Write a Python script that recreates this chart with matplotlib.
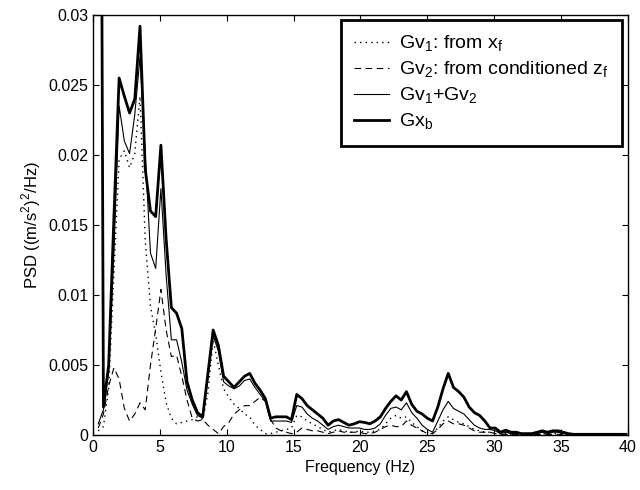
import numpy as np
import matplotlib
matplotlib.use('Agg')
import matplotlib.pyplot as plt

plt.rcParams['font.family'] = ['Liberation Sans', 'DejaVu Sans']
plt.rcParams['mathtext.fontset'] = 'custom'
plt.rcParams['mathtext.rm'] = 'Liberation Sans'

# frequency resolution of the spectra (Hz), bins 1..102
df = 400.0 / 1024.0
freq = df * np.arange(1, 103)

gxb = [0.1, 0.0020, 0.0050, 0.0155, 0.0255, 0.0242, 0.0230, 0.0240, 0.0292, 0.0190,
       0.0160, 0.0156, 0.0207, 0.0140, 0.0091, 0.0087, 0.0076, 0.0038, 0.0025, 0.0016,
       0.0013, 0.0044, 0.0075, 0.0064, 0.0042, 0.0038, 0.0034, 0.0038, 0.0042, 0.0044,
       0.0037, 0.0032, 0.0026, 0.0012, 0.0013, 0.0013, 0.0013, 0.0011, 0.0029, 0.0026,
       0.0021, 0.0018, 0.0015, 0.0012, 0.0007, 0.0010, 0.0011, 0.0009, 0.0007, 0.0008,
       0.00095, 0.0009, 0.0008, 0.0010, 0.0013, 0.0019, 0.0024, 0.0028, 0.0025, 0.0031,
       0.0022, 0.0017, 0.0015, 0.0012, 0.0010, 0.0020, 0.0033, 0.0044, 0.0034, 0.0031,
       0.0027, 0.0020, 0.0016, 0.0014, 0.0010, 0.0005, 0.0005, 0.0002, 0.00035, 0.0002,
       0.0002, 0.0001, 0.0001, 0.0001, 0.0002, 0.0003, 0.0002, 0.0003, 0.0003, 0.0002,
       0.0001, 0.00005, 0.00005, 0.00005, 0.00005, 0.00005, 0.00005, 0.00005, 0.00005, 0.00005,
       0.00005, 0.00005]

gv_sum = [0.0008, 0.0018, 0.0045, 0.0130, 0.0235, 0.0210, 0.0201, 0.0229, 0.0270, 0.0200,
          0.0130, 0.0119, 0.0176, 0.0114, 0.0068, 0.0068, 0.0052, 0.0032, 0.0022, 0.0014,
          0.0012, 0.0040, 0.0071, 0.0060, 0.0038, 0.0035, 0.0033, 0.0035, 0.0039, 0.0040,
          0.0034, 0.0029, 0.0024, 0.0010, 0.0010, 0.0010, 0.0010, 0.0009, 0.0021, 0.0020,
          0.0015, 0.0012, 0.0010, 0.0007, 0.0004, 0.0006, 0.0007, 0.0006, 0.0005, 0.0005,
          0.0005, 0.0004, 0.0004, 0.0005, 0.0008, 0.0014, 0.0019, 0.0020, 0.0018, 0.0023,
          0.0016, 0.0012, 0.0007, 0.0004, 0.0002, 0.0010, 0.0018, 0.0024, 0.0019, 0.0017,
          0.0015, 0.0011, 0.0007, 0.0005, 0.0004, 0.0004, 0.0003, 0.0001, 0.0002, 0.0001,
          0.0001, 0.0001, 0.0001, 0.0001, 0.0001, 0.0002, 0.0001, 0.0002, 0.0002, 0.0001,
          0.00005, 0.00004, 0.00004, 0.00004, 0.00004, 0.00004, 0.00004, 0.00004, 0.00004, 0.00004,
          0.00004, 0.00004]

gv1 = [0.0003, 0.0006, 0.0033, 0.0115, 0.0197, 0.0203, 0.0191, 0.0201, 0.0242, 0.0139,
       0.0092, 0.0072, 0.0045, 0.0023, 0.0012, 0.0008, 0.0009, 0.0010, 0.0011, 0.0013,
       0.0011, 0.0030, 0.0068, 0.0050, 0.0033, 0.0027, 0.0022, 0.0019, 0.0015, 0.0013,
       0.0007, 0.0004, 0.0001, 0.0001, 0.0002, 0.0003, 0.0004, 0.0005, 0.0014, 0.0013,
       0.0010, 0.0008, 0.0006, 0.0004, 0.0002, 0.0003, 0.0004, 0.0003, 0.0002, 0.0002,
       0.0003, 0.0002, 0.0002, 0.0003, 0.0004, 0.0008, 0.0012, 0.0014, 0.0012, 0.0013,
       0.0009, 0.0006, 0.0003, 0.0002, 0.0001, 0.0005, 0.0010, 0.0013, 0.0011, 0.0009,
       0.0008, 0.0006, 0.0004, 0.0003, 0.0002, 0.0002, 0.0001, 0.0001, 0.0001, 0.00005,
       0.00005, 0.00005, 0.00005, 0.00005, 0.00005, 0.0001, 0.00005, 0.0001, 0.0001, 0.00005,
       0.00003, 0.00003, 0.00003, 0.00003, 0.00003, 0.00003, 0.00003, 0.00003, 0.00003, 0.00003,
       0.00003, 0.00003]

gv2 = [0.0005, 0.0015, 0.0035, 0.0048, 0.0040, 0.0019, 0.0010, 0.0015, 0.0023, 0.0018,
       0.0050, 0.0076, 0.0104, 0.0075, 0.0056, 0.0057, 0.0042, 0.0025, 0.0012, 0.0010,
       0.0011, 0.0007, 0.0004, 0.0001, 0.0006, 0.0009, 0.0015, 0.0018, 0.0021, 0.0021,
       0.0024, 0.0027, 0.0024, 0.0011, 0.0005, 0.0003, 0.0002, 0.0001, 0.0002, 0.0005,
       0.0004, 0.0003, 0.0003, 0.0002, 0.0001, 0.0002, 0.0003, 0.0002, 0.0002, 0.0002,
       0.0002, 0.0001, 0.0001, 0.0002, 0.0004, 0.0006, 0.0007, 0.0006, 0.0006, 0.0010,
       0.0007, 0.0005, 0.0003, 0.0001, 0.0001, 0.0004, 0.0008, 0.0010, 0.0008, 0.0008,
       0.0007, 0.0005, 0.0003, 0.0002, 0.0002, 0.0002, 0.0001, 0.00005, 0.00005, 0.00005,
       0.00005, 0.00003, 0.00003, 0.00003, 0.00003, 0.00005, 0.00003, 0.00005, 0.00005, 0.00003,
       0.00002, 0.00002, 0.00002, 0.00002, 0.00002, 0.00002, 0.00002, 0.00002, 0.00002, 0.00002,
       0.00002, 0.00002]

labels = [r'Gv$_\mathregular{1}$: from x$_\mathregular{f}$',
          r'Gv$_\mathregular{2}$: from conditioned z$_\mathregular{f}$',
          r'Gv$_\mathregular{1}$+Gv$_\mathregular{2}$',
          r'Gx$_\mathregular{b}$']

fig = plt.figure(figsize=(6.4, 4.9), dpi=100)
ax = fig.add_axes([0.1453, 0.1122, 0.8359, 0.8572])

ax.plot(freq, gv1, color='k', lw=1.0, linestyle=(0, (1, 3)), label=labels[0])
ax.plot(freq, gv2, color='k', lw=0.8, linestyle=(0, (6, 4)), label=labels[1])
ax.plot(freq, gv_sum, color='k', lw=0.8, label=labels[2])
ax.plot(freq, gxb, color='k', lw=2.0, label=labels[3])

ax.set_xlim(0, 40)
ax.set_ylim(0, 0.03)
ax.set_xticks(np.arange(0, 41, 5))
ax.set_yticks([0, 0.005, 0.01, 0.015, 0.02, 0.025, 0.03])
ax.set_yticklabels(['0', '0.005', '0.01', '0.015', '0.02', '0.025', '0.03'])
ax.tick_params(direction='in', top=True, right=True, labelsize=11.5, length=4, width=0.8)
for s in ax.spines.values():
    s.set_linewidth(1.0)

ax.set_xlabel('Frequency (Hz)', fontsize=11.5)
ax.set_ylabel(r'PSD ((m/s$^\mathregular{2}$)$^\mathregular{2}$/Hz)', fontsize=12)

leg = ax.legend(loc='upper right', bbox_to_anchor=(0.989, 0.988), borderaxespad=0,
                fontsize=14, frameon=True, fancybox=False, edgecolor='k', framealpha=1,
                handlelength=1.8, handletextpad=0.5, labelspacing=0.3,
                borderpad=0.7)
leg.get_frame().set_linewidth(2.0)

fig.savefig('out.png', dpi=100)
